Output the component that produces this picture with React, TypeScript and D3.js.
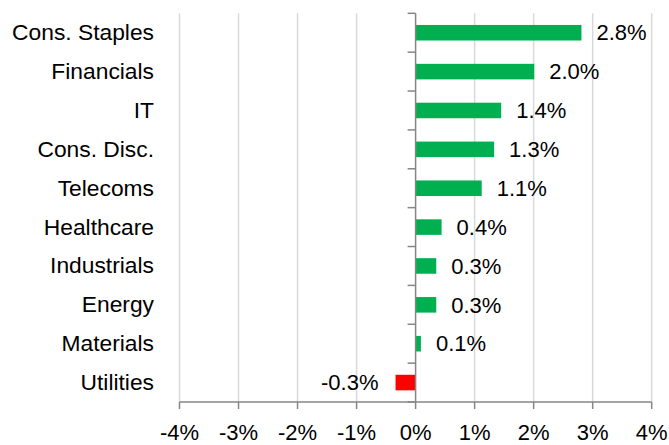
import React from "react";
import * as d3 from "d3";

const categories = ["Cons. Staples", "Financials", "IT", "Cons. Disc.", "Telecoms", "Healthcare", "Industrials", "Energy", "Materials", "Utilities"];
const values = [2.81, 2.01, 1.45, 1.33, 1.12, 0.44, 0.35, 0.35, 0.09, -0.34];
const labels = ["2.8%", "2.0%", "1.4%", "1.3%", "1.1%", "0.4%", "0.3%", "0.3%", "0.1%", "-0.3%"];
const ticks = [-4, -3, -2, -1, 0, 1, 2, 3, 4];

const W = 669, H = 445;
const FONT = "'Liberation Sans', Arial, sans-serif";

export default function App() {
  const x = d3.scaleLinear().domain([-4, 4]).range([179.5, 651.7]);
  const y = d3.scaleBand().domain(categories).range([13.3, 402]).paddingInner(0.6).paddingOuter(0.3);
  const yb = d3.scaleBand().domain(categories).range([13.3, 402]);
  const x0 = x(0);
  const axisY = 402;
  return (
    <svg width={W} height={H} style={{ position: "absolute", left: 0, top: 0, background: "#fff" }} fontFamily={FONT}>
      {ticks.filter(t => t !== 0).map(t => (
        <line key={"g" + t} x1={x(t)} x2={x(t)} y1={13.3} y2={axisY} stroke="#d9d9d9" strokeWidth={1.5} />
      ))}
      {categories.map((c, i) => {
        const v = values[i];
        const bx = Math.min(x(v), x0);
        const bw = Math.abs(x(v) - x0);
        const by = y(c)!;
        const cy = by + y.bandwidth() / 2;
        return (
          <g key={c}>
            <rect x={bx} y={by} width={bw} height={y.bandwidth()} fill={v >= 0 ? "#00B050" : "#FF0000"} />
            <text x={v >= 0 ? x(v) + 15 : x(v) - 17} y={cy} dy="0.35em" fontSize={22} textAnchor={v >= 0 ? "start" : "end"} fill="#000">{labels[i]}</text>
            <text x={154} y={cy - 0.5} dy="0.35em" fontSize={22.8} textAnchor="end" fill="#000">{c}</text>
          </g>
        );
      })}
      {categories.map(c => (
        <line key={"yt" + c} x1={x0 - 8} x2={x0} y1={yb(c)!} y2={yb(c)!} stroke="#868686" strokeWidth={1.5} />
      ))}
      <line x1={x0 - 8} x2={x0} y1={axisY} y2={axisY} stroke="#868686" strokeWidth={1.5} />
      <line x1={x0} x2={x0} y1={13.3} y2={axisY} stroke="#868686" strokeWidth={1.5} />
      <line x1={x(-4)} x2={x(4)} y1={axisY} y2={axisY} stroke="#868686" strokeWidth={1.5} />
      {ticks.map(t => (
        <g key={"t" + t}>
          <line x1={x(t)} x2={x(t)} y1={axisY} y2={axisY + 7} stroke="#868686" strokeWidth={1.5} />
          <text x={x(t)} y={440} fontSize={22} textAnchor="middle" fill="#000">{t + "%"}</text>
        </g>
      ))}
    </svg>
  );
}
